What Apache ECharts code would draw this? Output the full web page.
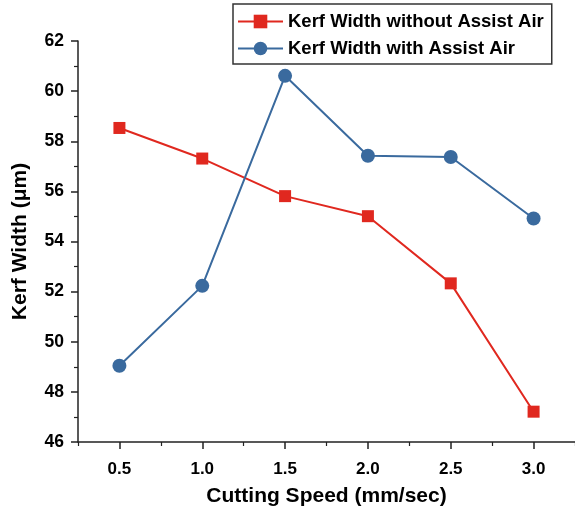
<!DOCTYPE html>
<html>
<head>
<meta charset="utf-8">
<script src="https://cdn.jsdelivr.net/npm/echarts@6/dist/echarts.min.js"></script>
<style>html,body{margin:0;padding:0;background:#fff}#c{width:575px;height:513px}</style>
</head>
<body>
<div id="c"></div>
<script>
var speeds = [0.5, 1.0, 1.5, 2.0, 2.5, 3.0];
var withoutAir = [58.53, 57.31, 55.81, 55.01, 52.33, 47.21];
var withAir = [49.04, 52.23, 60.61, 57.42, 57.37, 54.92];
var xMajorTicks = [0.5, 1.0, 1.5, 2.0, 2.5, 3.0];
var xMinorTicks = [0.25, 0.75, 1.25, 1.75, 2.25, 2.75, 3.25];

function pairs(xs, ys) { return xs.map(function (x, i) { return [x, ys[i]]; }); }

var font = 'Liberation Sans, Arial, sans-serif';
var chart = echarts.init(document.getElementById('c'));
chart.setOption({
  animation: false,
  grid: { left: 78, right: 0, top: 41, bottom: 71 },
  xAxis: [{
    type: 'value', min: 0.25, max: 3.25, interval: 0.25,
    name: 'Cutting Speed (mm/sec)', nameLocation: 'middle', nameGap: 44,
    nameTextStyle: { fontFamily: font, fontWeight: 'bold', fontSize: 21, color: '#000' },
    axisLine: { show: true, lineStyle: { color: '#222', width: 1.5 } },
    axisTick: { show: true, inside: false, length: 4, lineStyle: { color: '#222', width: 1.2 }, customValues: xMinorTicks },
    axisLabel: { show: true, customValues: xMajorTicks, margin: 19, fontFamily: font, fontWeight: 'bold', fontSize: 17, color: '#000',
      formatter: function (v) { return v.toFixed(1); } },
    splitLine: { show: false }
  }, {
    type: 'value', min: 0.25, max: 3.25, interval: 0.25, position: 'bottom',
    axisLine: { show: false },
    axisTick: { show: true, inside: false, length: 7, lineStyle: { color: '#222', width: 1.5 }, customValues: xMajorTicks },
    axisLabel: { show: false },
    splitLine: { show: false }
  }],
  yAxis: {
    type: 'value', min: 46, max: 62, interval: 2,
    name: 'Kerf Width (μm)', nameLocation: 'middle', nameGap: 47,
    nameTextStyle: { fontFamily: font, fontWeight: 'bold', fontSize: 21, color: '#000' },
    axisLine: { show: true, lineStyle: { color: '#222', width: 1.5 } },
    axisTick: { show: true, length: 7, lineStyle: { color: '#222', width: 1.5 } },
    minorTick: { show: true, splitNumber: 2, length: 4, lineStyle: { color: '#222', width: 1.2 } },
    axisLabel: { margin: 14, fontFamily: font, fontWeight: 'bold', fontSize: 17.5, color: '#000' },
    splitLine: { show: false }
  },
  legend: {
    orient: 'vertical', left: 233, top: 4,
    padding: [8, 8, 6, 4], itemGap: 8, itemWidth: 45, itemHeight: 17,
    borderColor: '#333', borderWidth: 1.5, backgroundColor: '#fff',
    textStyle: { fontFamily: font, fontWeight: 'bold', fontSize: 18.5, color: '#000' },
    data: ['Kerf Width without Assist Air', 'Kerf Width with Assist Air']
  },
  series: [{
    name: 'Kerf Width without Assist Air', type: 'line', xAxisIndex: 0,
    data: pairs(speeds, withoutAir),
    symbol: 'rect', symbolSize: 12,
    lineStyle: { color: '#E0281F', width: 2 },
    itemStyle: { color: '#E0281F' }
  }, {
    name: 'Kerf Width with Assist Air', type: 'line', xAxisIndex: 0,
    data: pairs(speeds, withAir),
    symbol: 'circle', symbolSize: 14,
    lineStyle: { color: '#3A6A9E', width: 2 },
    itemStyle: { color: '#3A6A9E' }
  }]
});
</script>
</body>
</html>
